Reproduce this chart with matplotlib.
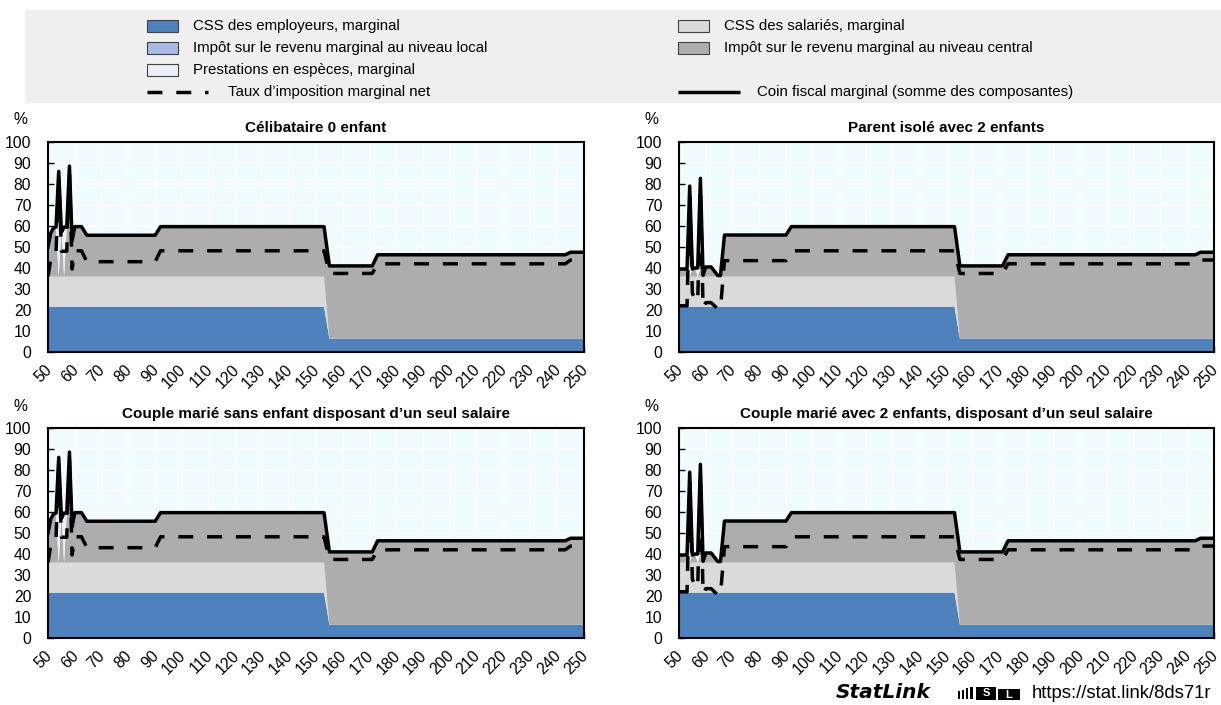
import matplotlib
matplotlib.use("Agg")
import matplotlib.pyplot as plt
import matplotlib.transforms as mtransforms
from matplotlib.patches import Rectangle
from matplotlib.lines import Line2D

plt.rcParams['font.family'] = ['Liberation Sans', 'DejaVu Sans']

W, H = 1221, 705

# Gross earnings as % of the average wage, household without children
wage_nc = [50, 51, 52, 53, 54, 55, 56, 57, 58, 59, 60, 62.5, 64.5, 90, 92, 153, 155, 171, 173, 243, 245, 250]
employer_nc = [21.6, 21.6, 21.6, 21.6, 21.6, 21.6, 21.6, 21.6, 21.6, 21.6, 21.6, 21.6, 21.6, 21.6, 21.6, 21.6,
               6.3, 6.3, 6.3, 6.3, 6.3, 6.3]
employee_nc = [14.3, 14.3, 14.3, 14.3, 14.3, 14.3, 14.3, 14.3, 14.3, 14.3, 14.3, 14.3, 14.3, 14.3, 14.3, 14.3,
               0.0, 0.0, 0.0, 0.0, 0.0, 0.0]
local_nc = [0.0, 0.0, 0.0, 0.0, 0.0, 0.0, 0.0, 0.0, 0.0, 0.0, 0.0, 0.0, 0.0, 0.0, 0.0, 0.0,
            0.0, 0.0, 0.0, 0.0, 0.0, 0.0]
central_nc = [14.1, 20.6, 23.1, 23.6, 0.0, 23.6, 0.0, 23.6, 23.6, 23.6, 23.8, 23.8, 19.7, 19.7, 23.8, 23.8,
              34.7, 34.7, 40.0, 40.0, 41.2, 41.2]
benefits_nc = [0.0, 0.0, 0.0, 0.0, 23.6, 0.0, 23.6, 0.0, 0.0, 0.0, 0.0, 0.0, 0.0, 0.0, 0.0, 0.0,
               0.0, 0.0, 0.0, 0.0, 0.0, 0.0]
wedge_nc = [50.0, 56.5, 59.0, 59.5, 86.0, 57.0, 59.5, 59.5, 88.5, 53.0, 59.7, 59.7, 55.6, 55.6, 59.7, 59.7,
            41.0, 41.0, 46.3, 46.3, 47.5, 47.5]
net_nc = [36.0, 44.0, 47.5, 47.5, 82.5, 48.0, 48.0, 48.0, 85.5, 39.5, 48.2, 48.2, 43.0, 43.0, 48.2, 48.2,
          37.4, 37.4, 42.0, 42.0, 43.8, 43.8]

# Household with two children
wage_tc = [50, 53, 54, 55, 56, 57, 58, 59, 60, 62, 64.5, 65.5, 67, 90, 92, 153, 155, 171, 173, 243, 245, 250]
employer_tc = [21.6, 21.6, 21.6, 21.6, 21.6, 21.6, 21.6, 21.6, 21.6, 21.6, 21.6, 21.6, 21.6, 21.6, 21.6, 21.6,
               6.3, 6.3, 6.3, 6.3, 6.3, 6.3]
employee_tc = [14.3, 14.3, 14.3, 14.3, 14.3, 14.3, 14.3, 14.3, 14.3, 14.3, 14.3, 14.3, 14.3, 14.3, 14.3, 14.3,
               0.0, 0.0, 0.0, 0.0, 0.0, 0.0]
local_tc = [0.0, 0.0, 0.0, 0.0, 0.0, 0.0, 0.0, 0.0, 0.0, 0.0, 0.0, 0.0, 0.0, 0.0, 0.0, 0.0,
            0.0, 0.0, 0.0, 0.0, 0.0, 0.0]
central_tc = [3.6, 3.6, 0.0, 3.6, 4.1, 0.0, 4.1, 4.6, 4.6, 4.6, 0.5, 0.5, 19.8, 19.8, 23.8, 23.8,
              34.7, 34.7, 40.0, 40.0, 41.2, 41.2]
benefits_tc = [0.0, 0.0, 3.6, 0.0, 0.0, 4.1, 0.0, 0.0, 0.0, 0.0, 0.0, 0.0, 0.0, 0.0, 0.0, 0.0,
               0.0, 0.0, 0.0, 0.0, 0.0, 0.0]
wedge_tc = [39.5, 39.5, 79.0, 39.5, 40.0, 40.0, 82.7, 36.5, 40.5, 40.5, 36.4, 36.4, 55.7, 55.7, 59.7, 59.7,
            41.0, 41.0, 46.3, 46.3, 47.5, 47.5]
net_tc = [22.0, 22.0, 74.0, 28.0, 25.0, 24.0, 78.0, 21.0, 23.5, 23.5, 20.5, 20.5, 43.5, 43.5, 48.2, 48.2,
          37.4, 37.4, 42.0, 42.0, 43.8, 43.8]

titles = ["Célibataire 0 enfant",
          "Parent isolé avec 2 enfants",
          "Couple marié sans enfant disposant d’un seul salaire",
          "Couple marié avec 2 enfants, disposant d’un seul salaire"]

x_ticks = list(range(50, 251, 10))
y_ticks = list(range(0, 101, 10))

component_labels = ["CSS des employeurs, marginal", "CSS des salariés, marginal",
                    "Impôt sur le revenu marginal au niveau local",
                    "Impôt sur le revenu marginal au niveau central",
                    "Prestations en espèces, marginal"]
net_label = "Taux d’imposition marginal net"
wedge_label = "Coin fiscal marginal (somme des composantes)"

c_employer = "#4F81BD"
c_employee = "#DADADA"
c_local = "#A8BAE3"
c_central = "#ADADAD"
c_benefits = "#EBEFF8"
bg = "#EFFBFD"

DASH = (4.3, 4.0)
LW = 2.5
FS_LEG = 10.8
FS_TICK = 11.3

nc = (wage_nc, employer_nc, employee_nc, local_nc, central_nc, benefits_nc, wedge_nc, net_nc)
tc = (wage_tc, employer_tc, employee_tc, local_tc, central_tc, benefits_tc, wedge_tc, net_tc)
panels = [nc, tc, nc, tc]

fig = plt.figure(figsize=(W / 100, H / 100), dpi=100)


def fx(px):
    return px / W


def fy(py):
    return 1 - py / H


# Legend band
fig.patches.append(Rectangle((fx(25), fy(103)), fx(W - 25), 93 / H, transform=fig.transFigure,
                             facecolor="#EFEFEF", edgecolor="none", zorder=0))


def legend_box(x, y, color, label):
    fig.patches.append(Rectangle((fx(x), fy(y + 6)), fx(31), 12 / H, transform=fig.transFigure,
                                 facecolor=color, edgecolor="#404040", linewidth=0.8, zorder=2))
    fig.text(fx(x + 46), fy(y), label, fontsize=FS_LEG, va="center", ha="left")


legend_box(147, 26, c_employer, component_labels[0])
legend_box(147, 48, c_local, component_labels[2])
legend_box(147, 70, c_benefits, component_labels[4])
legend_box(678, 26, c_employee, component_labels[1])
legend_box(678, 48, c_central, component_labels[3])

fig.lines.append(Line2D([fx(147), fx(208)], [fy(92), fy(92)], transform=fig.transFigure,
                        color="black", lw=LW, dashes=DASH, dash_capstyle="butt"))
fig.text(fx(228), fy(92), net_label, fontsize=FS_LEG, va="center", ha="left")
fig.lines.append(Line2D([fx(678), fx(740)], [fy(92), fy(92)], transform=fig.transFigure,
                        color="black", lw=LW, solid_capstyle="butt"))
fig.text(fx(757), fy(92), wedge_label, fontsize=FS_LEG, va="center", ha="left")

axes_px = [(48, 142, 536), (679, 142, 535), (48, 428, 536), (679, 428, 535)]
label_offset = mtransforms.ScaledTranslation(-4 / 100, -10 / 100, fig.dpi_scale_trans)

for (left, top, width), title, data in zip(axes_px, titles, panels):
    wage, emp, ee, loc, cen, ben, wedge, net = data
    ax = fig.add_axes([fx(left), fy(top + 210), fx(width), 210 / H])
    ax.set_facecolor(bg)
    ax.set_axisbelow(True)
    ax.grid(True, color="white", linewidth=1.2)
    ax.stackplot(wage, emp, ee, loc, cen, ben,
                 colors=[c_employer, c_employee, c_local, c_central, c_benefits],
                 linewidth=0, zorder=1)
    ax.plot(wage, net, color="black", lw=LW, dashes=DASH, dash_capstyle="butt", zorder=3)
    ax.plot(wage, wedge, color="black", lw=LW, solid_joinstyle="round", zorder=4)
    ax.set_xlim(50, 250)
    ax.set_ylim(0, 100)
    ax.set_xticks(x_ticks)
    ax.set_yticks(y_ticks)
    ax.set_yticklabels([str(v) for v in y_ticks], fontsize=FS_TICK)
    ax.tick_params(axis="both", direction="in", length=4, width=1, color="black")
    ax.tick_params(axis="x", labelbottom=False)
    ax.tick_params(axis="y", pad=12)
    # rotated wage labels under each tick
    base = mtransforms.blended_transform_factory(ax.transData, ax.transAxes)
    for v in x_ticks:
        ax.text(v, 0, str(v), transform=base + label_offset, rotation=45, ha="right", va="top",
                rotation_mode="anchor", fontsize=FS_TICK, clip_on=False)
    for sp in ax.spines.values():
        sp.set_linewidth(1.5)
        sp.set_color("black")
    ax.set_title(title, fontsize=11, fontweight="bold", pad=7)
    fig.text(fx(left - 28), fy(top - 22), "%", fontsize=FS_TICK, ha="center", va="center")

# Source link
fig.text(fx(836), fy(693), "StatLink", fontsize=14.5, fontstyle="italic", fontweight="bold",
         family="DejaVu Sans", va="center", ha="left")
for i, (bx, bw) in enumerate([(958, 2), (962, 2), (966, 2), (970, 3)]):
    fig.patches.append(Rectangle((fx(bx), fy(699)), fx(bw), (8 + i * 1.5) / H, transform=fig.transFigure,
                                 facecolor="black", edgecolor="none"))
fig.patches.append(Rectangle((fx(976), fy(700)), fx(20), 13 / H, transform=fig.transFigure,
                             facecolor="black", edgecolor="none"))
fig.patches.append(Rectangle((fx(998), fy(700)), fx(22), 11 / H, transform=fig.transFigure,
                             facecolor="black", edgecolor="none"))
fig.text(fx(986), fy(693.5), "S", color="white", fontsize=8, fontweight="bold", ha="center", va="center")
fig.text(fx(1009), fy(694.5), "L", color="white", fontsize=8, fontweight="bold", ha="center", va="center")
fig.text(fx(1032), fy(693), "https://stat.link/8ds71r", fontsize=13.3, va="center", ha="left")

fig.savefig("out.png", dpi=100)
